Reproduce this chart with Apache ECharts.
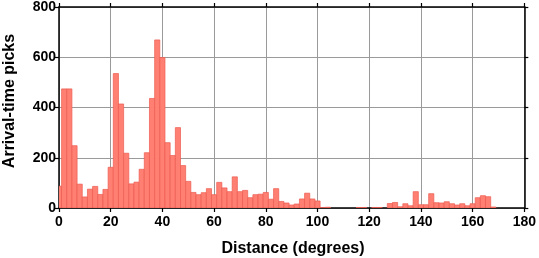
<!DOCTYPE html>
<html>
<head>
<meta charset="utf-8">
<script src="https://cdn.jsdelivr.net/npm/echarts@6/dist/echarts.min.js"></script>
<style>
html,body{margin:0;padding:0;background:#fff;}
#chart{width:539px;height:258px;}
</style>
</head>
<body>
<div id="chart"></div>
<script>
// Bin centres (degrees), 2-degree bins
const binCenters = [0,2,4,6,8,10,12,14,16,18,20,22,24,26,28,30,32,34,36,38,40,42,44,46,48,50,52,54,56,58,60,62,64,66,68,70,72,74,76,78,80,82,84,86,88,90,92,94,96,98,100,102,104,106,108,110,112,114,116,118,120,122,124,126,128,130,132,134,136,138,140,142,144,146,148,150,152,154,156,158,160,162,164,166,168,170,172,174,176,178,180];
// Arrival-time pick counts per bin
const pickCounts = [87,474,474,248,95,44,75,86,54,74,162,535,414,218,96,103,154,220,436,669,599,260,209,320,169,106,62,53,61,77,53,102,80,65,124,65,70,41,53,55,62,35,77,26,20,12,16,36,59,36,28,2,3,0,0,0,0,0,2,2,0,2,2,0,18,22,5,17,9,65,13,13,57,21,20,25,17,12,17,9,17,41,49,45,4,0,0,0,0,0,0];
const binWidth = 2;
const xTicks = [0,20,40,60,80,100,120,140,160,180];
const yTicks = [0,200,400,600,800];

const chart = echarts.init(document.getElementById('chart'), null, {renderer:'canvas'});
const font = 'Liberation Sans, Arial, Helvetica, sans-serif';
const axisLineStyle = {color:'#000', width:1.5};
const tickStyle = {color:'#000', width:1.2};

const data = binCenters.map((c,i)=>[c, pickCounts[i]]);

chart.setOption({
  animation:false,
  backgroundColor:'#fff',
  grid:{left:59, right:12, top:6, bottom:50, containLabel:false},
  xAxis:[{
    type:'value', min:xTicks[0], max:xTicks[xTicks.length-1], interval:20, position:'bottom',
    axisLine:{show:true, onZero:false, lineStyle:axisLineStyle},
    axisTick:{show:true, inside:false, length:4, lineStyle:tickStyle},
    axisLabel:{show:true, margin:7, color:'#000', fontFamily:font, fontWeight:'bold', fontSize:14},
    splitLine:{show:true, lineStyle:{color:'#9a9a9a', width:1}}
  },{
    type:'value', min:xTicks[0], max:xTicks[xTicks.length-1], interval:20, position:'top',
    axisLine:{show:true, onZero:false, lineStyle:axisLineStyle},
    axisTick:{show:true, inside:false, length:4, lineStyle:tickStyle},
    axisLabel:{show:false}, splitLine:{show:false}
  }],
  yAxis:[{
    type:'value', min:yTicks[0], max:yTicks[yTicks.length-1], interval:200, position:'left',
    axisLine:{show:true, onZero:false, lineStyle:axisLineStyle},
    axisTick:{show:true, inside:false, length:5, lineStyle:tickStyle},
    axisLabel:{show:true, margin:3, color:'#000', fontFamily:font, fontWeight:'bold', fontSize:14},
    splitLine:{show:true, lineStyle:{color:'#9a9a9a', width:1}}
  },{
    type:'value', min:yTicks[0], max:yTicks[yTicks.length-1], interval:200, position:'right',
    axisLine:{show:true, onZero:false, lineStyle:axisLineStyle},
    axisTick:{show:true, inside:false, length:4, lineStyle:tickStyle},
    axisLabel:{show:false}, splitLine:{show:false}
  }],
  graphic:[{
    type:'text', x:293, y:241,
    style:{text:'Distance (degrees)', fill:'#000', font:'bold 16px '+font, textAlign:'center', textVerticalAlign:'top'}
  },{
    type:'text', x:2, y:101, rotation:Math.PI/2,
    style:{text:'Arrival-time picks', fill:'#000', font:'bold 16px '+font, textAlign:'center', textVerticalAlign:'top'}
  }],
  series:[{
    type:'custom',
    clip:true,
    xAxisIndex:0, yAxisIndex:0,
    data:data,
    renderItem:function(params, api){
      const x = api.value(0), y = api.value(1);
      if (!y) return null;
      const p0 = api.coord([x - binWidth/2, y]);
      const p1 = api.coord([x + binWidth/2, 0]);
      return {
        type:'rect',
        shape:{x:p0[0], y:p0[1], width:p1[0]-p0[0], height:p1[1]-p0[1]},
        style:{fill:'#ff8072', stroke:'#ec5a50', lineWidth:0.7}
      };
    }
  }]
});
</script>
</body>
</html>
